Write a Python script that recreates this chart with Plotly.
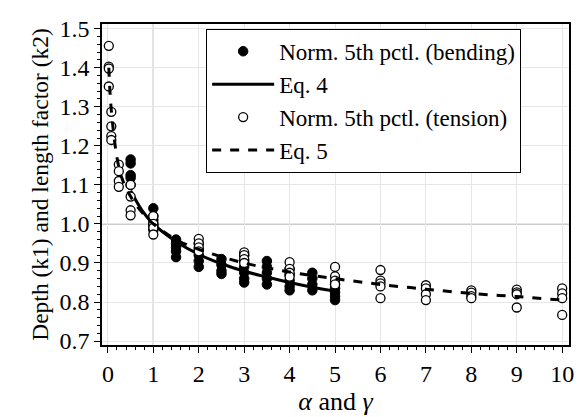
import plotly.graph_objects as go

# Bending: normalized 5th percentiles
bend_x = [0.5]*5 + [1]*6 + [1.5]*5 + [2]*5 + [2.5]*4 + [3]*6 + [3.5]*5 + [4]*5 + [4.5]*4 + [5]*5
bend_y = [1.165, 1.155, 1.125, 1.118, 1.10,
          1.04, 1.02, 1.01, 1.0, 0.995, 0.985,
          0.96, 0.95, 0.94, 0.93, 0.915,
          0.95, 0.935, 0.92, 0.905, 0.89,
          0.91, 0.895, 0.88, 0.872,
          0.92, 0.905, 0.89, 0.875, 0.86, 0.85,
          0.905, 0.89, 0.875, 0.86, 0.845,
          0.885, 0.87, 0.855, 0.84, 0.83,
          0.875, 0.86, 0.845, 0.83,
          0.845, 0.835, 0.825, 0.815, 0.805]

# Tension: normalized 5th percentiles
ten_x = ([0.02]*4 + [0.075]*4 + [0.24]*4 + [0.5]*4 + [1]*4 + [2]*4 + [3]*4 + [4]*4
         + [5]*4 + [6]*5 + [7]*4 + [8]*4 + [9]*4 + [10]*4)
ten_y = [1.456, 1.403, 1.398, 1.352,
         1.287, 1.25, 1.225, 1.215,
         1.152, 1.135, 1.11, 1.095,
         1.10, 1.07, 1.035, 1.022,
         1.02, 1.0, 0.99, 0.973,
         0.962, 0.95, 0.94, 0.93,
         0.927, 0.92, 0.91, 0.90,
         0.902, 0.885, 0.875, 0.865,
         0.89, 0.866, 0.855, 0.845,
         0.882, 0.855, 0.848, 0.84, 0.81,
         0.843, 0.835, 0.82, 0.805,
         0.83, 0.824, 0.815, 0.81,
         0.832, 0.825, 0.82, 0.786,
         0.835, 0.822, 0.81, 0.767]

# Eq. 4 (solid)
eq4_x = [0.5, 0.75, 1, 1.5, 2, 2.5, 3, 3.5, 4, 4.5, 5]
eq4_y = [1.085, 1.035, 1.0, 0.955, 0.922, 0.898, 0.879, 0.864, 0.85, 0.838, 0.828]

# Eq. 5 (dashed)
eq5_x = [0.02, 0.05, 0.1, 0.2, 0.3, 0.5, 0.75, 1, 1.5, 2, 3, 4, 5, 6, 7, 8, 9, 10]
eq5_y = [1.40, 1.33, 1.26, 1.17, 1.12, 1.07, 1.03, 1.0, 0.96, 0.935, 0.90, 0.877,
         0.86, 0.845, 0.833, 0.822, 0.814, 0.805]

FONT = '"Liberation Serif", "Times New Roman", "DejaVu Serif", serif'

fig = go.Figure()
fig.add_trace(go.Scatter(x=bend_x, y=bend_y, mode="markers", name="Norm. 5th pctl. (bending)",
                         marker=dict(symbol="circle", size=9.5, color="black",
                                     line=dict(color="black", width=1))))
fig.add_trace(go.Scatter(x=eq4_x, y=eq4_y, mode="lines", name="Eq. 4",
                         line=dict(color="black", width=3, shape="spline")))
fig.add_trace(go.Scatter(x=ten_x, y=ten_y, mode="markers", name="Norm. 5th pctl. (tension)",
                         marker=dict(symbol="circle", size=9, color="white",
                                     line=dict(color="black", width=1.3))))
fig.add_trace(go.Scatter(x=eq5_x, y=eq5_y, mode="lines", name="Eq. 5",
                         line=dict(color="black", width=3, dash="dash", shape="spline")))

fig.add_hline(y=1.0, line=dict(color="#9a9a9a", width=1.2), layer="below")
fig.add_vline(x=1.0, line=dict(color="#9a9a9a", width=1.2), layer="below")

# page body has an 8px default margin: size the figure so it fits the 582x417 window
fig.update_layout(
    width=574, height=409,
    margin=dict(l=94, r=10, t=8, b=72),
    paper_bgcolor="white", plot_bgcolor="white",
    font=dict(family=FONT, size=24, color="black"),
    showlegend=True,
    legend=dict(x=0.223, y=0.985, xanchor="left", yanchor="top",
                bgcolor="white", bordercolor="black", borderwidth=1,
                font=dict(family=FONT, size=23), itemwidth=62,
                tracegroupgap=0),
)
fig.update_xaxes(range=[-0.13, 10.15], tickmode="linear", tick0=0, dtick=1,
                 showgrid=True, gridcolor="#e6e6e6", gridwidth=1,
                 showline=True, linecolor="black", linewidth=1.5, mirror=True,
                 ticks="outside", ticklen=6, tickcolor="black",
                 minor=dict(dtick=0.2, ticks="outside", ticklen=3, tickcolor="black", showgrid=False),
                 zeroline=False,
                 title=dict(text="<i>α</i> and <i>γ</i>", font=dict(family=FONT, size=26), standoff=2),
                 tickfont=dict(family=FONT, size=24))
fig.update_yaxes(range=[0.69, 1.512], tickmode="linear", tick0=0.7, dtick=0.1, tickformat=".1f",
                 showgrid=True, gridcolor="#e6e6e6", gridwidth=1,
                 showline=True, linecolor="black", linewidth=1.5, mirror=True,
                 ticks="outside", ticklen=6, tickcolor="black",
                 minor=dict(dtick=0.02, ticks="outside", ticklen=3, tickcolor="black", showgrid=False),
                 zeroline=False,
                 title=dict(text="Depth (k1) and length factor (k2)", font=dict(family=FONT, size=23.5), standoff=4),
                 tickfont=dict(family=FONT, size=24))

fig.write_html("out.html")
